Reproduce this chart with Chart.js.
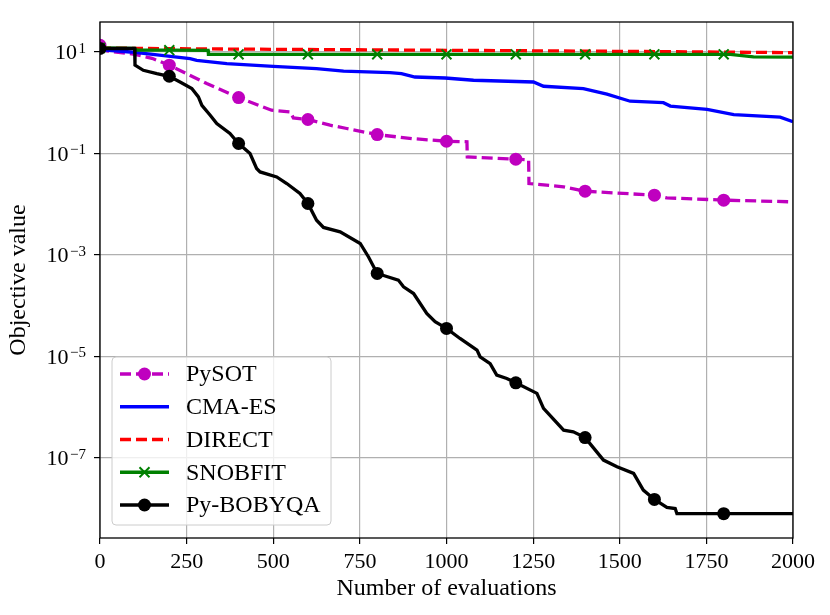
<!DOCTYPE html>
<html>
<head>
<meta charset="utf-8">
<script src="https://cdn.jsdelivr.net/npm/chart.js@4.4.0/dist/chart.umd.min.js"></script>
<style>
  html, body { margin: 0; padding: 0; background: #fff; }
  #wrap { width: 830px; height: 615px; }
</style>
</head>
<body>
<div id="wrap"><canvas id="chart" width="830" height="615"></canvas></div>
<script>
// axis ticks
const xTicks = [0, 250, 500, 750, 1000, 1250, 1500, 1750, 2000];
const yTickExponents = [1, -1, -3, -5, -7];

// series (evaluations, best objective so far)
const pysotX = [0, 20, 101, 150, 200, 308, 400, 495, 549, 558, 600, 664, 712, 800, 900, 1000, 1059, 1060, 1200, 1237, 1238, 1338, 1400, 1600, 1636, 1800, 2000];
const pysotY = [13.5, 10.5, 9.0, 7.5, 5.5, 2.38, 1.26, 0.71, 0.66, 0.50, 0.466, 0.36, 0.31, 0.235, 0.196, 0.174, 0.17, 0.085, 0.077, 0.075, 0.0255, 0.022, 0.018, 0.015, 0.0133, 0.012, 0.0111];

const cmaesX = [0, 87, 178, 260, 279, 366, 500, 625, 703, 837, 870, 909, 996, 1078, 1251, 1280, 1395, 1463, 1530, 1626, 1646, 1752, 1829, 1963, 2000];
const cmaesY = [11.2, 10.0, 8.6, 7.4, 6.86, 5.9, 5.2, 4.7, 4.2, 3.93, 3.75, 3.21, 3.07, 2.77, 2.56, 2.11, 1.9, 1.47, 1.07, 1.0, 0.86, 0.74, 0.58, 0.52, 0.42];

const directX = [0, 200, 500, 1000, 1500, 2000];
const directY = [12.0, 11.6, 11.3, 10.8, 10.3, 9.7];

const snobfitX = [0, 100, 106, 200, 312, 313, 400, 600, 800, 1000, 1200, 1400, 1600, 1800, 1819, 1886, 2000];
const snobfitY = [12.0, 11.8, 10.9, 10.85, 10.8, 9.0, 9.0, 9.0, 9.0, 9.0, 9.0, 9.0, 9.0, 9.0, 9.0, 8.0, 7.9];

const bobyqaX = [0, 100, 101, 125, 164, 200, 231, 265, 284, 294, 318, 337, 375, 400, 433, 452, 462, 510, 539, 577, 600, 625, 645, 693, 751, 775, 800, 861, 876, 905, 943, 967, 1000, 1039, 1088, 1097, 1126, 1145, 1174, 1200, 1261, 1280, 1338, 1366, 1400, 1453, 1492, 1540, 1568, 1600, 1636, 1660, 1665, 1800, 2000];
const bobyqaY = [11.7, 11.7, 5.5, 4.35, 3.75, 3.32, 2.56, 1.9, 1.30, 0.89, 0.566, 0.388, 0.247, 0.157, 0.0995, 0.0504, 0.0432, 0.0344, 0.0255, 0.0162, 0.0103, 0.00483, 0.00347, 0.00284, 0.00168, 9.1e-4, 4.3e-4, 3.18e-4, 2.34e-4, 1.73e-4, 7.0e-5, 4.8e-5, 3.55e-5, 2.25e-5, 1.33e-5, 9.8e-6, 7.2e-6, 4.26e-6, 3.66e-6, 3.0e-6, 1.86e-6, 9.4e-7, 3.5e-7, 3.25e-7, 2.5e-7, 9.0e-8, 6.65e-8, 4.93e-8, 2.31e-8, 1.51e-8, 1.05e-8, 1.0e-8, 7.9e-9, 7.9e-9, 7.9e-9];

const SERIF = '"Liberation Serif", "DejaVu Serif", serif';
const markEvery = 200;

const toPoints = (xs, ys) => xs.map((x, i) => ({ x: x, y: ys[i] }));
const markerRadius = (r) => (ctx) => (ctx.raw && ctx.raw.x % markEvery === 0 && ctx.raw.x < 2000 ? r : 0);

const datasets = [
  {
    label: 'PySOT', data: toPoints(pysotX, pysotY), order: 5,
    borderColor: '#bf00bf', backgroundColor: '#bf00bf', borderWidth: 3.3, borderDash: [11, 5],
    pointStyle: 'circle', pointRadius: markerRadius(6.5), pointBorderWidth: 0
  },
  {
    label: 'CMA-ES', data: toPoints(cmaesX, cmaesY), order: 4,
    borderColor: '#0000ff', backgroundColor: '#0000ff', borderWidth: 3.3, pointRadius: 0
  },
  {
    label: 'DIRECT', data: toPoints(directX, directY), order: 3,
    borderColor: '#ff0000', backgroundColor: '#ff0000', borderWidth: 3.3, borderDash: [11, 5], pointRadius: 0
  },
  {
    label: 'SNOBFIT', data: toPoints(snobfitX, snobfitY), order: 2,
    borderColor: '#008000', backgroundColor: '#008000', borderWidth: 3.3,
    pointStyle: 'crossRot', pointRadius: markerRadius(7), pointBorderWidth: 2
  },
  {
    label: 'Py-BOBYQA', data: toPoints(bobyqaX, bobyqaY), order: 1,
    borderColor: '#000000', backgroundColor: '#000000', borderWidth: 3.3,
    pointStyle: 'circle', pointRadius: markerRadius(6.5), pointBorderWidth: 0
  }
];

// frame on all four sides plus 10^n labels on the y axis
const frameAndLabels = {
  id: 'frameAndLabels',
  afterDatasetsDraw(chart) {
    const { ctx, chartArea: a, scales: { y } } = chart;
    ctx.save();
    ctx.strokeStyle = '#000';
    ctx.lineWidth = 1.3;
    ctx.strokeRect(a.left, a.top, a.right - a.left, a.bottom - a.top);

    ctx.fillStyle = '#000';
    ctx.textAlign = 'right';
    ctx.textBaseline = 'alphabetic';
    yTickExponents.forEach(e => {
      const py = y.getPixelForValue(Math.pow(10, e));
      const exp = e < 0 ? '\u2212' + (-e) : String(e);
      ctx.font = '15px ' + SERIF;
      const ew = ctx.measureText(exp).width;
      ctx.fillText(exp, 86, py + 1);
      ctx.font = '22px ' + SERIF;
      ctx.fillText('10', 86 - ew - 1.5, py + 7.5);
    });
    ctx.restore();
  }
};

// legend box in the lower left corner, like matplotlib's
const legendBox = {
  id: 'legendBox',
  afterDraw(chart) {
    const { ctx } = chart;
    const left = 112, top = 357, w = 219, h = 168;
    ctx.save();
    ctx.beginPath();
    ctx.roundRect(left, top, w, h, 4);
    ctx.fillStyle = 'rgba(255,255,255,0.8)';
    ctx.fill();
    ctx.strokeStyle = '#cccccc';
    ctx.lineWidth = 1;
    ctx.stroke();

    chart.data.datasets.forEach((ds, i) => {
      const cy = 374 + i * 32.75;
      ctx.save();
      ctx.strokeStyle = ds.borderColor;
      ctx.lineWidth = ds.borderWidth;
      ctx.setLineDash(ds.borderDash || []);
      ctx.beginPath();
      ctx.moveTo(120, cy);
      ctx.lineTo(169, cy);
      ctx.stroke();
      ctx.setLineDash([]);
      if (ds.pointStyle === 'circle') {
        ctx.fillStyle = ds.backgroundColor;
        ctx.beginPath();
        ctx.arc(144.5, cy, 6.5, 0, Math.PI * 2);
        ctx.fill();
      } else if (ds.pointStyle === 'crossRot') {
        ctx.lineWidth = 2;
        ctx.beginPath();
        ctx.moveTo(139.5, cy - 5); ctx.lineTo(149.5, cy + 5);
        ctx.moveTo(139.5, cy + 5); ctx.lineTo(149.5, cy - 5);
        ctx.stroke();
      }
      ctx.restore();
      ctx.fillStyle = '#000';
      ctx.font = '24px ' + SERIF;
      ctx.textAlign = 'left';
      ctx.textBaseline = 'middle';
      ctx.fillText(ds.label, 186, cy + 1);
    });
    ctx.restore();
  }
};

new Chart(document.getElementById('chart'), {
  type: 'line',
  data: { datasets: datasets },
  plugins: [frameAndLabels, legendBox],
  options: {
    responsive: false,
    animation: false,
    devicePixelRatio: 1,
    events: [],
    layout: { padding: { left: 0, top: 22, right: 37, bottom: 0 } },
    plugins: { legend: { display: false }, tooltip: { enabled: false } },
    elements: { line: { tension: 0 } },
    scales: {
      x: {
        type: 'linear', min: 0, max: 2000,
        afterBuildTicks: (scale) => { scale.ticks = xTicks.map(v => ({ value: v })); },
        afterFit: (scale) => { scale.height = 77; },
        ticks: { color: '#000', font: { family: SERIF, size: 22 }, padding: 5, maxRotation: 0, callback: (v) => String(v) },
        grid: { color: '#b0b0b0', lineWidth: 1.2, tickColor: '#000', tickLength: 6 },
        border: { display: false },
        title: { display: true, text: 'Number of evaluations', color: '#000', font: { family: SERIF, size: 24 }, padding: { top: 0, bottom: 12 } }
      },
      y: {
        type: 'logarithmic', min: 2.62e-9, max: 39,
        afterBuildTicks: (scale) => { scale.ticks = yTickExponents.map(e => ({ value: Math.pow(10, e) })); },
        afterFit: (scale) => { scale.width = 100; },
        ticks: { display: false },
        grid: { color: '#b0b0b0', lineWidth: 1.2, tickColor: '#000', tickLength: 6 },
        border: { display: false },
        title: { display: true, text: 'Objective value', color: '#000', font: { family: SERIF, size: 24 }, padding: { top: 4, bottom: 0 } }
      }
    }
  }
});
</script>
</body>
</html>
